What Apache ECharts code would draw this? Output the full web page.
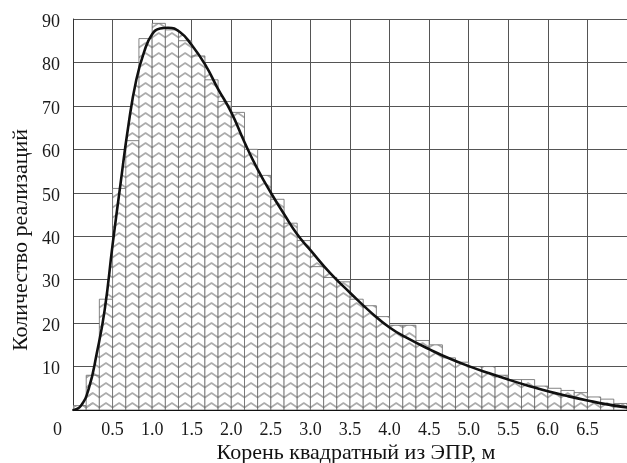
<!DOCTYPE html>
<html><head><meta charset="utf-8">
<script src="https://cdn.jsdelivr.net/npm/echarts@6/dist/echarts.min.js"></script>
<style>html,body{margin:0;padding:0;background:#fff}#c{width:627px;height:463px}</style>
</head><body><div id="c"></div>
<script>
// ---- data ----
const binEdges = [0, 0.167, 0.333, 0.5, 0.667, 0.833, 1.0, 1.167, 1.333, 1.5, 1.667, 1.833, 2.0, 2.167, 2.333, 2.5, 2.667, 2.833, 3.0, 3.167, 3.333, 3.5, 3.667, 3.833, 4.0, 4.167, 4.333, 4.5, 4.667, 4.833, 5.0, 5.167, 5.333, 5.5, 5.667, 5.833, 6.0, 6.167, 6.333, 6.5, 6.667, 6.833, 7.0];
const binCounts = [1, 8, 25.5, 51, 62, 85.5, 89, 87.5, 85, 81.5, 76, 71, 68.5, 60, 54, 48.5, 43, 39, 33, 30.5, 29.5, 25.5, 24, 21.5, 19.5, 19.5, 16, 15, 12, 11, 10, 10, 8, 7, 7, 5.5, 5, 4.5, 4, 3, 2.5, 1.5];
const curveX = [0, 0.1, 0.2, 0.3, 0.4, 0.5, 0.6, 0.7, 0.8, 0.9, 1.0, 1.1, 1.2, 1.35, 1.5, 1.67, 1.83, 2.0, 2.17, 2.33, 2.5, 2.67, 2.83, 3.0, 3.25, 3.5, 3.75, 4.0, 4.25, 4.5, 4.75, 5.0, 5.25, 5.5, 5.75, 6.0, 6.25, 6.5, 6.75, 7.0];
const curveY = [0, 1, 5, 13, 23, 38, 52, 65.5, 76, 82.5, 86.5, 87.8, 88, 87, 84, 79.5, 74, 68.5, 61.5, 55.5, 50, 45, 40.5, 36.8, 31.5, 27, 22.7, 19, 16.3, 14, 11.9, 10.1, 8.5, 7.0, 5.6, 4.3, 3.2, 2.2, 1.3, 0.6];
const xTitle = 'Корень квадратный из ЭПР, м';
const yTitle = 'Количество реализаций';
const xMin = 0, xMax = 7, xStep = 0.5;
const yMin = 0, yMax = 90, yStep = 10;

const FONT = '"Liberation Serif", "Times New Roman", serif';
const chart = echarts.init(document.getElementById('c'), null, {renderer: 'canvas'});
let hatch = '#ffffff';

function makeHatch(x0, x1, nBins) {
  const W = Math.round(x1 - x0);
  const H = 10;
  const c = document.createElement('canvas');
  c.width = W; c.height = H;
  const ctx = c.getContext('2d');
  ctx.fillStyle = '#ffffff';
  ctx.fillRect(0, 0, W, H);
  ctx.strokeStyle = '#acacac';
  ctx.lineWidth = 1.7;
  ctx.lineJoin = 'round';
  const bw = W / nBins;
  const off = ((x0 % W) + W) % W;
  for (const shift of [-W, 0]) {
    ctx.beginPath();
    for (let k = 0; k <= nBins + 1; k++) {
      const xe = off + shift + k * bw;
      if (k === 0) ctx.moveTo(xe, 7.5); else ctx.lineTo(xe, 7.5);
      ctx.lineTo(xe + bw / 2, 3);
    }
    ctx.stroke();
  }
  return {image: c, repeat: 'repeat'};
}

const curveData = curveX.map((x, i) => [x, curveY[i]]);
const barData = binCounts.map((v, i) => [binEdges[i], binEdges[i + 1], v]);
const lbl = {fontFamily: FONT, fontSize: 18, color: '#1a1a1a'};

function buildOption() {
  return {
    animation: false,
    backgroundColor: '#ffffff',
    grid: {left: 73, right: 0, top: 19, bottom: 53, containLabel: false, outerBoundsMode: 'none'},
    xAxis: {
      type: 'value', min: xMin, max: xMax, interval: xStep,
      axisLine: {show: true, onZero: false, lineStyle: {color: '#111', width: 1.8}},
      axisTick: {show: false},
      splitLine: {show: true, lineStyle: {color: '#555', width: 1}},
      axisLabel: Object.assign({}, lbl, {
        margin: 11, showMinLabel: true, showMaxLabel: true,
        formatter: v => v === 0 ? '{z|0}' : (v >= xMax ? '' : v.toFixed(1)),
        rich: {z: Object.assign({}, lbl, {padding: [0, 31, 0, 0]})}
      })
    },
    yAxis: {
      type: 'value', min: yMin, max: yMax, interval: yStep,
      axisLine: {show: true, lineStyle: {color: '#333', width: 1}},
      axisTick: {show: false},
      splitLine: {show: true, lineStyle: {color: '#555', width: 1}},
      axisLabel: Object.assign({}, lbl, {
        margin: 13,
        formatter: v => v === 0 ? '' : '{a|' + v + '}',
        rich: {a: Object.assign({}, lbl, {padding: [6, 0, 0, 0]})}
      })
    },
    graphic: [
      {type: 'text', x: 356, y: 453, style: {text: xTitle, font: '22px ' + FONT, align: 'center', verticalAlign: 'middle', fill: '#111'}},
      {type: 'text', x: 21, y: 240, rotation: Math.PI / 2, style: {text: yTitle, font: '22px ' + FONT, align: 'center', verticalAlign: 'middle', fill: '#111'}}
    ],
    series: [
      {
        type: 'line', data: curveData, smooth: 0.5, symbol: 'none', silent: true, z: 1,
        lineStyle: {width: 0, opacity: 0},
        areaStyle: {color: hatch, opacity: 1}
      },
      {
        type: 'custom', data: barData, z: 2, silent: true, clip: true,
        encode: {x: [0, 1], y: 2},
        renderItem: (params, api) => {
          const a = api.coord([api.value(0), api.value(2)]);
          const b = api.coord([api.value(1), 0]);
          return {type: 'rect', shape: {x: a[0], y: a[1], width: b[0] - a[0], height: b[1] - a[1]},
            style: {fill: hatch, stroke: '#666', lineWidth: 0.8}};
        }
      },
      {
        type: 'line', data: curveData, smooth: 0.5, symbol: 'none', silent: true, z: 3,
        lineStyle: {color: '#111', width: 2.6}
      }
    ]
  };
}

chart.setOption(buildOption());
const px0 = chart.convertToPixel({xAxisIndex: 0}, xMin);
const px1 = chart.convertToPixel({xAxisIndex: 0}, xMax);
hatch = makeHatch(px0, px1, binCounts.length);
chart.setOption(buildOption(), true);
</script></body></html>
